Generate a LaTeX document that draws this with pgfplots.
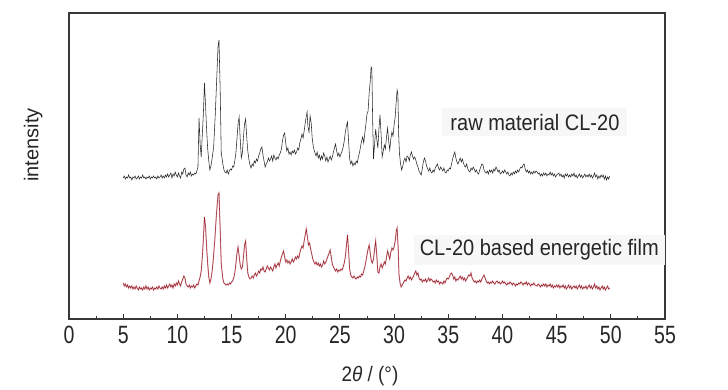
\documentclass[border=0pt]{standalone}
\usepackage{fontspec}
\setmainfont{Liberation Sans}
\usepackage{pgfplots}
\pgfplotsset{compat=1.18}
\usepackage{pgfplotstable}
\usepackage{graphicx}
\definecolor{rawc}{RGB}{40,40,40}
\definecolor{filmc}{RGB}{150,35,45}
\definecolor{filmhalo}{RGB}{232,178,182}
\definecolor{boxc}{RGB}{247,247,247}

\pgfplotstableread{
x y
5.0 141
5.1 143
5.2 140
5.3 142
5.4 141
5.5 144
5.6 141
5.7 142
5.8 139
5.9 142
6.0 141
6.1 143
6.2 140
6.3 141
6.4 143
6.5 140
6.6 142
6.7 141
6.8 144
6.9 141
7.0 142
7.1 140
7.2 142
7.3 141
7.4 143
7.5 140
7.6 142
7.7 141
7.8 143
7.9 141
8.0 142
8.1 140
8.2 143
8.3 141
8.4 142
8.5 144
8.6 141
8.7 143
8.8 141
8.9 144
9.0 142
9.1 145
9.2 142
9.3 144
9.4 146
9.5 141
9.6 145
9.7 143
9.8 147
9.9 144
10.0 142
10.1 146
10.2 143
10.3 141
10.4 147
10.5 145
10.6 150
10.7 151
10.8 144
10.9 142
11.0 146
11.1 144
11.2 147
11.3 143
11.4 145
11.5 144
11.6 146
11.7 145
11.8 148
11.9 152
12.0 201
12.1 175
12.2 162
12.3 184
12.4 205
12.5 236
12.6 214
12.7 189
12.8 170
12.9 158
13.0 149
13.1 153
13.2 160
13.35 172
13.5 205
13.65 245
13.75 272
13.84 279
13.95 230
14.05 166
14.2 155
14.3 149
14.4 147
14.5 146
14.6 149
14.7 145
14.8 148
14.9 150
15.0 149
15.1 153
15.2 152
15.3 158
15.4 166
15.5 180
15.6 195
15.7 202
15.8 180
15.9 161
16.0 166
16.1 182
16.2 195
16.3 200
16.4 182
16.5 168
16.6 160
16.7 154
16.8 151
16.9 155
17.0 153
17.1 158
17.2 156
17.3 160
17.4 158
17.5 163
17.6 166
17.7 170
17.8 172
17.9 164
18.0 158
18.1 152
18.2 155
18.3 157
18.4 161
18.5 158
18.6 160
18.7 163
18.8 158
18.9 164
19.0 161
19.1 159
19.2 162
19.3 160
19.4 164
19.5 166
19.6 170
19.7 178
19.8 184
19.9 186
20.0 176
20.1 168
20.2 171
20.3 165
20.4 167
20.5 164
20.6 168
20.7 166
20.8 169
20.9 165
21.0 167
21.1 171
21.2 169
21.3 176
21.4 180
21.5 185
21.6 181
21.7 188
21.8 196
21.9 203
21.97 207
22.05 192
22.15 187
22.25 203
22.35 196
22.45 180
22.55 172
22.7 166
22.8 163
22.9 167
23.0 161
23.1 164
23.2 159
23.3 163
23.4 160
23.5 166
23.6 163
23.7 158
23.8 162
23.9 157
24.0 160
24.1 163
24.2 159
24.3 162
24.4 167
24.5 171
24.6 175
24.7 168
24.8 163
24.9 166
25.0 162
25.1 165
25.2 168
25.3 172
25.4 178
25.5 187
25.6 193
25.7 197
25.8 178
25.9 160
26.0 155
26.1 158
26.2 153
26.3 156
26.4 154
26.5 158
26.6 156
26.7 162
26.8 166
26.9 172
27.0 178
27.1 182
27.2 176
27.3 186
27.4 195
27.5 205
27.6 208
27.7 226
27.8 238
27.88 252
27.95 250
28.02 200
28.1 160
28.2 175
28.3 190
28.4 180
28.5 171
28.6 190
28.7 204
28.8 185
28.9 162
29.0 168
29.1 174
29.2 170
29.3 182
29.4 191
29.5 178
29.6 169
29.7 180
29.8 187
29.9 183
30.0 194
30.1 202
30.2 218
30.28 229
30.35 225
30.42 185
30.5 165
30.6 155
30.7 149
30.8 153
30.9 158
31.0 161
31.1 157
31.2 163
31.3 162
31.4 158
31.5 164
31.6 167
31.7 163
31.8 160
31.9 162
32.0 159
32.1 155
32.2 152
32.3 148
32.4 146
32.5 144
32.6 150
32.7 157
32.8 161
32.9 158
33.0 153
33.1 150
33.2 148
33.3 151
33.4 147
33.5 146
33.6 149
33.7 147
33.8 151
33.9 153
34.0 155
34.1 151
34.2 149
34.3 152
34.4 150
34.5 148
34.6 151
34.7 147
34.8 146
34.9 149
35.0 148
35.1 151
35.2 150
35.3 155
35.4 160
35.5 164
35.6 167
35.7 161
35.8 157
35.9 155
36.0 158
36.1 161
36.2 157
36.3 160
36.4 156
36.5 153
36.6 152
36.7 155
36.8 150
36.9 148
37.0 147
37.1 151
37.2 149
37.3 152
37.4 150
37.5 147
37.6 149
37.7 146
37.8 145
37.9 149
38.0 152
38.1 155
38.2 154
38.3 149
38.4 147
38.5 146
38.6 148
38.7 145
38.8 149
38.9 147
39.0 149
39.1 146
39.2 150
39.3 148
39.4 152
39.5 150
39.6 147
39.7 149
39.8 145
39.9 146
40.0 148
40.1 146
40.2 149
40.3 147
40.4 145
40.5 147
40.6 144
40.7 143
40.8 146
40.9 144
41.0 147
41.1 145
41.2 148
41.3 146
41.4 149
41.5 147
41.6 150
41.7 152
41.8 151
41.9 154
42.0 155
42.1 150
42.2 147
42.3 149
42.4 146
42.5 148
42.6 145
42.7 147
42.8 145
42.9 148
43.0 146
43.1 148
43.2 147
43.3 145
43.4 146
43.5 143
43.6 145
43.7 143
43.8 146
43.9 144
44.0 146
44.1 143
44.2 145
44.3 144
44.4 147
44.5 144
44.6 146
44.7 143
44.8 145
44.9 142
45.0 144
45.2 146
45.3 143
45.4 145
45.5 142
45.6 144
45.7 141
45.8 145
45.9 143
46.0 145
46.1 142
46.2 144
46.3 142
46.4 145
46.5 143
46.6 146
46.7 142
46.8 144
46.9 141
47.0 143
47.1 145
47.2 142
47.3 144
47.4 141
47.5 143
47.6 145
47.7 142
47.8 144
47.9 142
48.0 145
48.1 142
48.2 144
48.3 141
48.4 143
48.5 146
48.6 142
48.7 144
48.8 140
48.9 143
49.0 141
49.1 144
49.2 142
49.3 144
49.4 140
49.5 143
49.6 139
49.7 142
49.8 140
49.9 143
}\rawdata

\pgfplotstableread{
x y
5.0 36
5.1 33
5.2 35
5.3 32
5.4 34
5.5 31
5.6 33
5.7 31
5.8 33
5.9 30
6.0 32
6.1 30
6.2 33
6.3 31
6.4 29
6.5 32
6.6 30
6.7 31
6.8 29
6.9 32
7.0 30
7.1 33
7.2 30
7.3 32
7.4 29
7.5 31
7.6 30
7.7 32
7.8 29
7.9 31
8.0 30
8.1 32
8.2 30
8.3 33
8.4 31
8.5 30
8.6 32
8.7 30
8.8 33
8.9 31
9.0 34
9.1 31
9.2 33
9.3 35
9.4 32
9.5 34
9.6 31
9.7 35
9.8 33
9.9 36
10.0 34
10.1 38
10.2 35
10.3 33
10.4 37
10.5 40
10.6 43
10.7 41
10.8 35
10.9 33
11.0 32
11.1 34
11.2 31
11.3 33
11.4 32
11.5 34
11.6 31
11.7 33
11.8 35
11.9 34
12.0 38
12.1 42
12.2 48
12.3 62
12.4 80
12.5 102
12.6 92
12.7 72
12.8 55
12.9 42
13.0 36
13.1 40
13.2 47
13.3 58
13.45 78
13.6 104
13.75 124
13.84 126
13.95 90
14.05 55
14.2 40
14.3 36
14.4 35
14.5 34
14.6 35
14.7 34
14.8 36
14.9 35
15.0 37
15.1 38
15.2 41
15.3 46
15.4 55
15.5 66
15.6 72
15.7 63
15.8 54
15.9 50
16.0 52
16.1 62
16.2 74
16.3 78
16.4 60
16.5 46
16.6 42
16.7 40
16.8 41
16.9 43
17.0 41
17.1 44
17.2 46
17.3 43
17.4 45
17.5 48
17.6 46
17.7 50
17.8 49
17.9 52
18.0 48
18.1 47
18.2 50
18.3 53
18.4 51
18.5 49
18.6 52
18.7 50
18.8 48
18.9 52
19.0 55
19.1 51
19.2 54
19.3 56
19.4 53
19.5 58
19.6 62
19.7 65
19.8 68
19.9 62
20.0 57
20.1 59
20.2 56
20.3 58
20.4 55
20.5 57
20.6 60
20.7 57
20.8 59
20.9 62
21.0 60
21.1 63
21.2 61
21.3 66
21.4 70
21.5 73
21.6 71
21.7 78
21.8 84
21.9 90
22.0 82
22.1 74
22.2 76
22.3 70
22.4 65
22.5 60
22.6 57
22.7 55
22.8 57
22.9 54
23.0 56
23.1 53
23.2 55
23.3 52
23.4 54
23.5 58
23.6 55
23.7 57
23.8 60
23.9 63
24.0 66
24.1 69
24.2 62
24.3 55
24.4 52
24.5 50
24.6 48
24.7 50
24.8 47
24.9 49
25.0 48
25.1 50
25.2 49
25.3 52
25.4 56
25.5 62
25.6 73
25.7 84
25.8 68
25.9 50
26.0 44
26.1 42
26.2 41
26.3 43
26.4 41
26.5 40
26.6 42
26.7 41
26.8 43
26.9 42
27.0 45
27.1 44
27.2 48
27.3 52
27.4 58
27.5 64
27.6 70
27.7 74
27.8 66
27.9 58
28.0 56
28.1 60
28.2 70
28.3 78
28.4 64
28.5 47
28.6 46
28.7 52
28.8 55
28.9 51
29.0 54
29.1 57
29.2 55
29.3 62
29.4 68
29.5 64
29.6 60
29.7 67
29.8 71
29.9 69
30.0 72
30.1 78
30.2 88
30.28 91
30.38 70
30.45 45
30.55 36
30.65 32
30.75 34
30.9 37
31.0 39
31.1 38
31.2 41
31.3 43
31.4 40
31.5 42
31.6 39
31.7 41
31.8 43
31.9 46
32.0 48
32.1 44
32.2 46
32.3 41
32.4 39
32.5 40
32.6 37
32.7 39
32.8 38
32.9 40
33.0 37
33.1 39
33.2 41
33.3 38
33.4 40
33.5 39
33.6 37
33.7 38
33.8 36
33.9 39
34.0 37
34.1 38
34.2 35
34.3 37
34.4 36
34.5 35
34.6 38
34.7 36
34.8 39
34.9 41
35.0 40
35.1 42
35.2 45
35.3 46
35.4 44
35.5 40
35.6 42
35.7 38
35.8 40
35.9 39
36.0 41
36.1 43
36.2 40
36.3 42
36.4 39
36.5 41
36.6 38
36.7 40
36.8 42
36.9 44
37.0 43
37.1 46
37.2 41
37.3 39
37.4 37
37.5 38
37.6 36
37.7 38
37.8 37
37.9 39
38.0 37
38.1 40
38.2 42
38.3 44
38.4 41
38.5 38
38.6 36
38.7 37
38.8 35
38.9 37
39.0 36
39.1 38
39.2 36
39.3 35
39.4 37
39.5 38
39.6 36
39.7 37
39.8 35
39.9 36
40.0 38
40.1 36
40.2 37
40.3 35
40.4 34
40.5 36
40.6 35
40.7 37
40.8 36
40.9 34
41.0 36
41.1 35
41.2 33
41.3 35
41.4 34
41.5 36
41.6 35
41.7 37
41.8 36
41.9 34
42.0 36
42.1 35
42.2 37
42.3 34
42.4 36
42.5 35
42.6 33
42.7 35
42.8 34
42.9 36
43.0 34
43.2 33
43.3 35
43.4 34
43.5 32
43.6 34
43.7 33
43.8 35
43.9 33
44.0 35
44.1 32
44.2 34
44.3 33
44.4 35
44.5 32
44.6 34
44.7 31
44.8 33
44.9 32
45.0 34
45.1 32
45.2 34
45.3 31
45.4 33
45.5 32
45.6 34
45.7 31
45.8 33
45.9 30
46.0 32
46.1 34
46.2 31
46.3 33
46.4 30
46.5 32
46.6 33
46.7 31
46.8 33
46.9 30
47.0 32
47.1 34
47.2 31
47.3 33
47.4 30
47.5 32
47.6 31
47.7 33
47.8 30
47.9 32
48.0 34
48.1 31
48.2 33
48.3 30
48.4 32
48.5 35
48.6 31
48.7 33
48.8 30
48.9 32
49.0 29
49.1 31
49.2 33
49.3 30
49.4 32
49.5 29
49.6 31
49.7 33
49.8 30
49.9 31
}\filmdata

\begin{document}
\begin{tikzpicture}
\begin{axis}[
  scale only axis,
  width=596pt, height=306pt,
  xmin=0, xmax=55, ymin=0, ymax=306,
  axis line style={draw=black!78, line width=1.3pt},
  xtick={0,5,...,55},
  minor xtick={2.5,7.5,...,52.5},
  xtick pos=bottom,
  tick align=inside,
  major tick length=5pt, minor tick length=3pt,
  every tick/.style={draw=black!80, line width=1pt},
  ytick=\empty,
  /pgf/number format/assume math mode=true,
  xticklabel={\scalebox{0.78}[1]{\fontsize{25}{25}\selectfont\pgfmathprintnumber{\tick}}},
  xticklabel style={text=black!85, yshift=-4pt},
  xlabel={\scalebox{0.9}[1]{\fontsize{21}{21}\selectfont 2\textit{θ} / (°)}},
  xlabel style={at={(axis description cs:0.505,-0.186)}, anchor=center, text=black!85},
  ylabel={\fontsize{20}{20}\selectfont intensity},
  ylabel style={at={(axis description cs:-0.060,0.569)}, anchor=center, rotate=0, text=black!85},
  clip=false,
]
\addplot[color=rawc, line width=0.55pt] table[x=x,y=y] {\rawdata};
\addplot[color=filmhalo, line width=1.4pt, opacity=0.7] table[x=x,y=y] {\filmdata};
\addplot[color=filmc, line width=0.55pt] table[x=x,y=y] {\filmdata};
\node[fill=boxc, inner xsep=8pt, inner ysep=6pt, text=black!85] at (axis cs:43.0,197)
  {\scalebox{1}[1.12]{\fontsize{20}{20}\selectfont raw material CL-20}};
\node[fill=boxc, inner xsep=6pt, inner ysep=5pt, text=black!85] at (axis cs:43.4,69)
  {\scalebox{1}[1.12]{\fontsize{20}{20}\selectfont CL-20 based energetic film}};
\end{axis}
\pgfresetboundingbox
\path ([shift={(-69pt,-71pt)}]current axis.south west) rectangle ([shift={(63pt,13pt)}]current axis.north east);
\end{tikzpicture}
\end{document}
